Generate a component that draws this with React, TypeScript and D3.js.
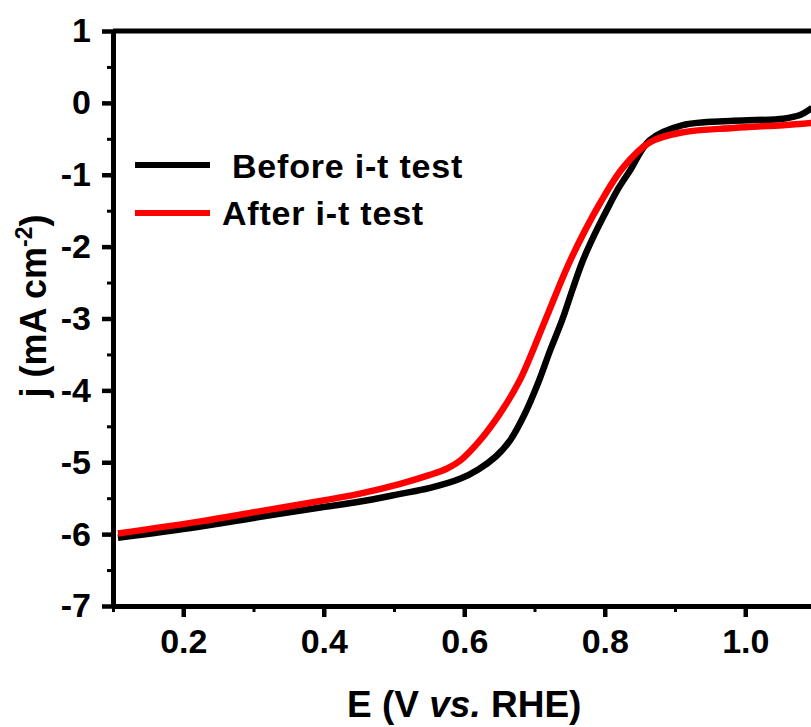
import React, { useEffect, useRef } from 'react';
import * as d3 from 'd3';

// potential (V vs. RHE) and current density (mA cm-2)
const beforeE = [0.107, 0.22, 0.31, 0.395, 0.45, 0.509, 0.55, 0.594, 0.62, 0.645, 0.665, 0.685, 0.705, 0.722, 0.739, 0.754, 0.769, 0.786, 0.803, 0.82, 0.836, 0.864, 0.911, 0.983, 1.054, 1.078, 1.095];
const beforeJ = [-6.05, -5.9, -5.76, -5.63, -5.55, -5.44, -5.36, -5.23, -5.1, -4.92, -4.7, -4.35, -3.9, -3.45, -3.03, -2.6, -2.19, -1.82, -1.49, -1.18, -0.94, -0.52, -0.31, -0.25, -0.22, -0.17, -0.07];

const afterE = [0.107, 0.22, 0.31, 0.395, 0.45, 0.509, 0.55, 0.575, 0.594, 0.622, 0.651, 0.679, 0.715, 0.751, 0.793, 0.826, 0.864, 0.911, 0.983, 1.054, 1.095];
const afterJ = [-5.99, -5.83, -5.68, -5.54, -5.44, -5.3, -5.18, -5.09, -4.98, -4.7, -4.32, -3.86, -3.03, -2.19, -1.4, -0.9, -0.55, -0.41, -0.35, -0.31, -0.28];

const xMajor = [0.2, 0.4, 0.6, 0.8, 1.0];
const xMinor = [0.1, 0.3, 0.5, 0.7, 0.9];
const yMajor = [1, 0, -1, -2, -3, -4, -5, -6, -7];
const yMinor = [0.5, -0.5, -1.5, -2.5, -3.5, -4.5, -5.5, -6.5];

const seriesNames = ['Before i-t test', 'After i-t test'];
const seriesColors = ['#000000', '#ff0000'];

const FONT = '"Liberation Sans", Arial, sans-serif';

export default function App() {
  const svgRef = useRef<SVGSVGElement>(null);

  useEffect(() => {
    const width = 811, height = 727;
    const margin = { top: 31, right: -4.5, bottom: 121, left: 113 };

    const svg = d3.select(svgRef.current);
    svg.selectAll('*').remove();
    svg.attr('width', width).attr('height', height);

    const x = d3.scaleLinear()
      .domain([0.1, 1.1])
      .range([margin.left, width - margin.right]);
    const y = d3.scaleLinear()
      .domain([-7, 1])
      .range([height - margin.bottom, margin.top]);

    const g = svg.append('g')
      .style('font-family', FONT)
      .style('font-weight', 'bold');

    // curves, black first so the red one sits on top
    const line = d3.line<[number, number]>()
      .x(d => x(d[0]))
      .y(d => y(d[1]))
      .curve(d3.curveCatmullRom.alpha(0.5));

    const series = [
      beforeE.map((e, i) => [e, beforeJ[i]] as [number, number]),
      afterE.map((e, i) => [e, afterJ[i]] as [number, number]),
    ];
    series.forEach((pts, i) => {
      g.append('path')
        .attr('d', line(pts))
        .attr('fill', 'none')
        .attr('stroke', seriesColors[i])
        .attr('stroke-width', 6.5)
        .attr('stroke-linejoin', 'round');
    });

    // top frame line
    g.append('line')
      .attr('x1', x(0.1)).attr('x2', x(1.1))
      .attr('y1', y(1)).attr('y2', y(1))
      .attr('stroke', '#000').attr('stroke-width', 5);

    const styleAxis = (sel: any, tickWidth: number) => {
      sel.select('.domain').attr('stroke', '#000').attr('stroke-width', 5);
      sel.selectAll('.tick line').attr('stroke', '#000').attr('stroke-width', tickWidth);
      sel.selectAll('.tick text')
        .attr('fill', '#000')
        .style('font-size', '34px')
        .style('font-family', FONT)
        .style('font-weight', 'bold');
    };

    // x axis
    g.append('g')
      .attr('transform', `translate(0, ${y(-7)})`)
      .call(d3.axisBottom(x).tickValues(xMinor).tickSize(6).tickSizeOuter(0).tickFormat(() => ''))
      .call((s: any) => styleAxis(s, 3));
    g.append('g')
      .attr('transform', `translate(0, ${y(-7)})`)
      .call(d3.axisBottom(x).tickValues(xMajor).tickSize(11).tickSizeOuter(0).tickPadding(12).tickFormat((d: any) => d.toFixed(1)))
      .call((s: any) => styleAxis(s, 4.5));

    // y axis
    g.append('g')
      .attr('transform', `translate(${x(0.1)}, 0)`)
      .call(d3.axisLeft(y).tickValues(yMinor).tickSize(6).tickSizeOuter(0).tickFormat(() => ''))
      .call((s: any) => styleAxis(s, 3));
    g.append('g')
      .attr('transform', `translate(${x(0.1)}, 0)`)
      .call(d3.axisLeft(y).tickValues(yMajor).tickSize(11).tickSizeOuter(0).tickPadding(11).tickFormat((d: any) => String(d)))
      .call((s: any) => styleAxis(s, 4.5));

    // axis titles
    const xt = g.append('text')
      .attr('x', (x(0.1) + x(1.1)) / 2)
      .attr('y', 717)
      .attr('text-anchor', 'middle')
      .style('font-size', '37px');
    xt.append('tspan').text('E (V ');
    xt.append('tspan').style('font-style', 'italic').text('vs.');
    xt.append('tspan').text(' RHE)');

    const yt = g.append('text')
      .attr('transform', 'translate(46, 306) rotate(-90)')
      .attr('text-anchor', 'middle')
      .style('font-size', '36px');
    yt.append('tspan').text('j (mA cm');
    yt.append('tspan').attr('dy', -14).style('font-size', '23px').text('-2');
    yt.append('tspan').attr('dy', 14).text(')');

    // legend
    const legendRows = [
      { lineY: 165, textX: 232, textY: 178 },
      { lineY: 213, textX: 222, textY: 225 },
    ];
    legendRows.forEach((r, i) => {
      g.append('line')
        .attr('x1', 135).attr('x2', 210)
        .attr('y1', r.lineY).attr('y2', r.lineY)
        .attr('stroke', seriesColors[i]).attr('stroke-width', 6);
      g.append('text')
        .attr('x', r.textX).attr('y', r.textY)
        .style('font-size', '34px')
        .style('letter-spacing', '0.8px')
        .text(seriesNames[i]);
    });
  }, []);

  return (
    <div>
      <style>{'body { margin: 0; }'}</style>
      <svg ref={svgRef} style={{ display: 'block' }}></svg>
    </div>
  );
}
